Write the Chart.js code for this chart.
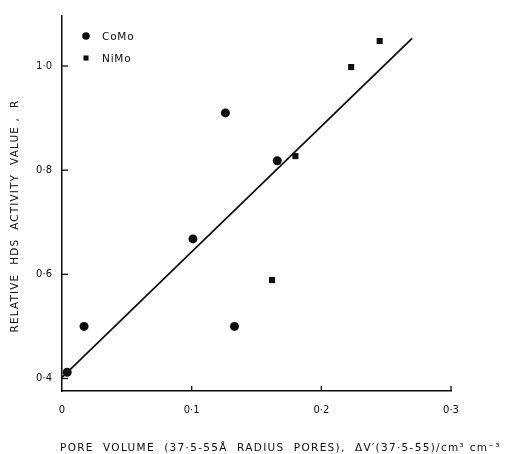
<!DOCTYPE html>
<html>
<head>
<meta charset="utf-8">
<script src="https://cdn.jsdelivr.net/npm/chart.js@4/dist/chart.umd.min.js"></script>
<style>
  html, body { margin: 0; padding: 0; background: #fff; }
  canvas { display: block; }
</style>
</head>
<body>
<canvas id="chart" width="505" height="454"></canvas>
<script>
// data
const comoX = [0.004, 0.017, 0.101, 0.126, 0.133, 0.166];
const comoY = [0.412, 0.50, 0.668, 0.91, 0.50, 0.818];
const nimoX = [0.162, 0.180, 0.223, 0.245];
const nimoY = [0.589, 0.827, 0.998, 1.048];
const fitX = [0, 0.27];
const fitY = [0.402, 1.053];
const xTicks = [0, 0.1, 0.2, 0.3];
const yTicks = [0.4, 0.6, 0.8, 1.0];
const xTitle = "PORE  VOLUME  (37·5-55Å  RADIUS  PORES),  ΔV′(37·5-55)/cm³ cm⁻³";
const yTitle = "RELATIVE  HDS  ACTIVITY  VALUE ,  R";

const ink = "#0d0d0d";
const fontFamily = "'DejaVu Sans', sans-serif";
const textFont = "10.5px " + fontFamily;

const toPts = (xs, ys) => xs.map((x, i) => ({ x: x, y: ys[i] }));
const fmt = (v) => (v === 0 ? "0" : v.toFixed(1).replace(".", "·"));

// spread text so it covers the given length
function spreadText(ctx, text, x, y, len) {
  ctx.letterSpacing = "0px";
  const w = ctx.measureText(text).width;
  const sp = Math.max(0, (len - w) / text.length);
  ctx.letterSpacing = sp.toFixed(2) + "px";
  ctx.fillText(text, x, y);
  ctx.letterSpacing = "0px";
}

// legend drawn inside the plot, top-left
const insideLegend = {
  id: "insideLegend",
  afterDraw(chart) {
    const ctx = chart.ctx;
    const area = chart.chartArea;
    ctx.save();
    ctx.fillStyle = ink;
    ctx.font = textFont;
    ctx.letterSpacing = "0.8px";
    ctx.textBaseline = "middle";
    const rows = [
      { ds: chart.data.datasets[0], radius: 3.8 },
      { ds: chart.data.datasets[1], radius: 3.6 },
    ];
    rows.forEach((r, i) => {
      const x = area.left + 24;
      const y = area.top + 20 + i * 22;
      Chart.helpers.drawPoint(ctx, { pointStyle: r.ds.pointStyle, radius: r.radius, rotation: 0, borderWidth: 0 }, x, y);
      ctx.fillText(r.ds.label, x + 16, y + 1);
    });
    ctx.restore();
  },
};

// inward ticks on both axes, axis titles
const extras = {
  id: "extras",
  afterDraw(chart) {
    const ctx = chart.ctx;
    const xs = chart.scales.x;
    const ys = chart.scales.y;
    const area = chart.chartArea;
    ctx.save();
    ctx.strokeStyle = ink;
    ctx.lineWidth = 1.3;
    xs.ticks.forEach((t) => {
      if (t.value === 0) return;
      const px = xs.getPixelForValue(t.value);
      ctx.beginPath();
      ctx.moveTo(px, area.bottom);
      ctx.lineTo(px, area.bottom - 5);
      ctx.stroke();
    });
    ys.ticks.forEach((t) => {
      const py = ys.getPixelForValue(t.value);
      ctx.beginPath();
      ctx.moveTo(area.left, py);
      ctx.lineTo(area.left + 6, py);
      ctx.stroke();
    });

    ctx.fillStyle = ink;
    ctx.font = textFont;
    ctx.textBaseline = "middle";
    ctx.textAlign = "left";
    spreadText(ctx, xTitle, area.left - 2, 448, 441);

    ctx.translate(15, (area.top + area.bottom) / 2 + 12);
    ctx.rotate(-Math.PI / 2);
    spreadText(ctx, yTitle, -117, 0, 233);
    ctx.restore();
  },
};

new Chart(document.getElementById("chart"), {
  type: "scatter",
  data: {
    datasets: [
      {
        label: "CoMo",
        data: toPts(comoX, comoY),
        pointStyle: "circle",
        pointRadius: 4.5,
        backgroundColor: ink,
        borderColor: ink,
        borderWidth: 0,
      },
      {
        label: "NiMo",
        data: toPts(nimoX, nimoY),
        pointStyle: "rect",
        pointRadius: 4.3,
        backgroundColor: ink,
        borderColor: ink,
        borderWidth: 0,
      },
      {
        label: "fit",
        type: "line",
        data: toPts(fitX, fitY),
        borderColor: ink,
        borderWidth: 1.8,
        pointRadius: 0,
        fill: false,
      },
    ],
  },
  options: {
    responsive: false,
    animation: false,
    layout: { padding: { top: 11, right: 54, left: 0, bottom: 0 } },
    plugins: {
      legend: { display: false },
      tooltip: { enabled: false },
    },
    scales: {
      x: {
        type: "linear",
        min: 0,
        max: 0.3,
        afterBuildTicks: (s) => { s.ticks = xTicks.map((v) => ({ value: v })); },
        afterFit: (s) => { s.height = 63; },
        ticks: {
          callback: (v) => fmt(v),
          color: ink,
          font: { family: fontFamily, size: 10 },
          padding: 13,
          maxRotation: 0,
        },
        grid: { drawOnChartArea: false, drawTicks: false },
        border: { color: ink, width: 1.5 },
      },
      y: {
        type: "linear",
        min: 0.376,
        max: 1.096,
        afterBuildTicks: (s) => { s.ticks = yTicks.map((v) => ({ value: v })); },
        afterFit: (s) => { s.width = 62; },
        ticks: {
          callback: (v) => fmt(v),
          color: ink,
          font: { family: fontFamily, size: 10 },
          padding: 10,
        },
        grid: { drawOnChartArea: false, drawTicks: false },
        border: { color: ink, width: 1.5 },
      },
    },
  },
  plugins: [insideLegend, extras],
});
</script>
</body>
</html>
